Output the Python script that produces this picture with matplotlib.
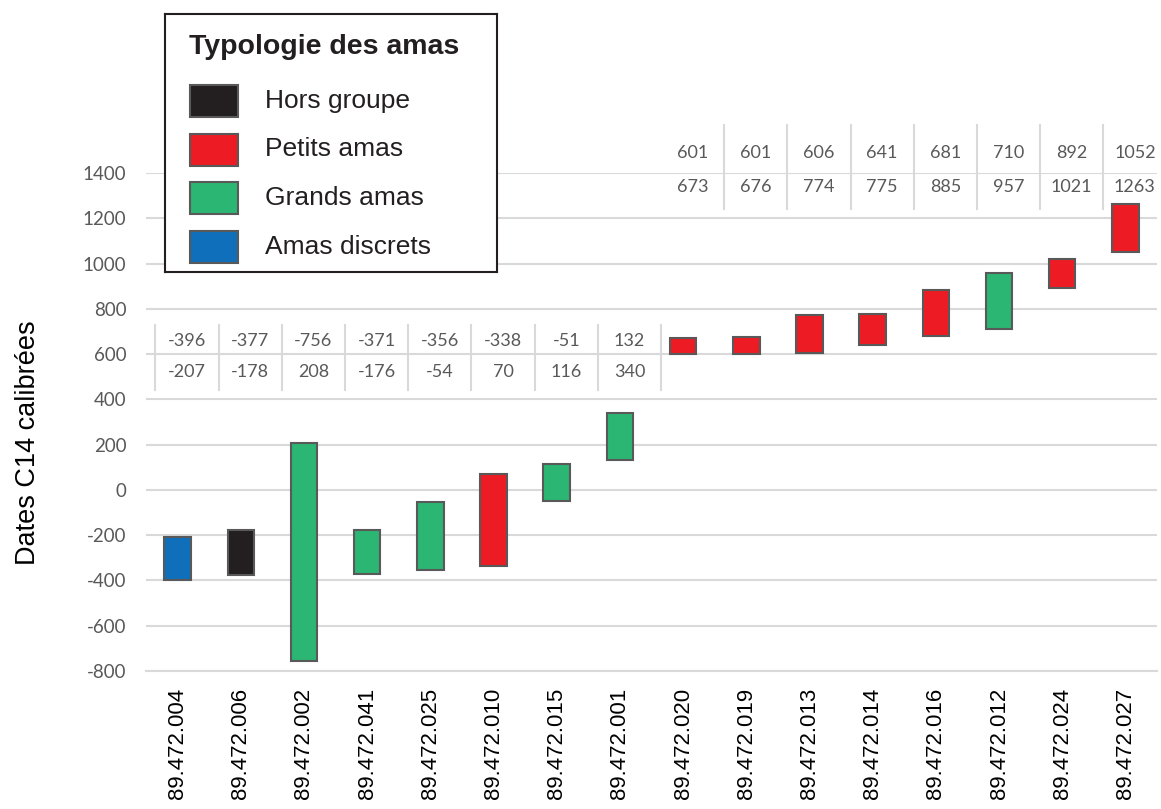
import numpy as np
import matplotlib
matplotlib.use('Agg')
import matplotlib.pyplot as plt
from matplotlib.patches import Rectangle

# sample ids, in plotting order
SAMPLES = ['89.472.004', '89.472.006', '89.472.002', '89.472.041',
           '89.472.025', '89.472.010', '89.472.015', '89.472.001',
           '89.472.020', '89.472.019', '89.472.013', '89.472.014',
           '89.472.016', '89.472.012', '89.472.024', '89.472.027']

# calibrated C14 range (low, high)
LOW = [-396, -377, -756, -371, -356, -338, -51, 132,
       601, 601, 606, 641, 681, 710, 892, 1052]
HIGH = [-207, -178, 208, -176, -54, 70, 116, 340,
        673, 676, 774, 775, 885, 957, 1021, 1263]

# cluster type of each sample
TYPES = ['Amas discrets', 'Hors groupe', 'Grands amas', 'Grands amas',
         'Grands amas', 'Petits amas', 'Grands amas', 'Grands amas',
         'Petits amas', 'Petits amas', 'Petits amas', 'Petits amas',
         'Petits amas', 'Grands amas', 'Petits amas', 'Petits amas']

LEGEND_ORDER = ['Hors groupe', 'Petits amas', 'Grands amas', 'Amas discrets']
COLORS = {'Hors groupe': '#231f20', 'Petits amas': '#ed1c24',
          'Grands amas': '#2bb673', 'Amas discrets': '#0f6fba'}

YTICKS = np.arange(-800, 1401, 200)

NUM_FONT = 'Lato'
TXT_FONT = 'Liberation Sans'
GRID = '#d9d9d9'
GREY_TXT = '#595959'


def draw_table(ax, idx, y_low, y_high, y_top, y_bot, left_line):
    # little data table printed above the bars (low value over high value)
    off = 0.15
    for i in idx:
        ax.text(i + off, y_low, str(LOW[i]), ha='center', va='center',
                fontsize=13, color=GREY_TXT, family=NUM_FONT, clip_on=False)
        ax.text(i + off, y_high, str(HIGH[i]), ha='center', va='center',
                fontsize=13, color=GREY_TXT, family=NUM_FONT, clip_on=False)
    bounds = [i + off + 0.5 for i in idx[:-1]]
    if left_line:
        bounds = [idx[0] + off - 0.5] + bounds + [idx[-1] + off + 0.5]
    for b in bounds:
        ax.plot([b, b], [y_bot, y_top], color=GRID, lw=1.5, clip_on=False,
                zorder=1)


def main():
    fig = plt.figure(figsize=(11.61, 8.09), dpi=100)
    ax = fig.add_axes([146 / 1161, 1 - 671 / 809, 1011 / 1161, 498 / 809])

    x = np.arange(len(SAMPLES))
    low = np.array(LOW)
    high = np.array(HIGH)
    colors = [COLORS[t] for t in TYPES]
    ax.bar(x, high - low, bottom=low, width=0.42, color=colors,
           edgecolor='#595959', linewidth=1.5, zorder=3)

    ax.set_xlim(-0.5, len(SAMPLES) - 0.5)
    ax.set_ylim(-800, 1400)
    ax.set_yticks(YTICKS)
    ax.set_yticklabels([str(v) for v in YTICKS], family=NUM_FONT,
                       fontsize=13.5, color=GREY_TXT)
    ax.yaxis.grid(True, color=GRID, lw=1.5, zorder=0)
    ax.set_axisbelow(True)
    ax.tick_params(axis='y', length=0, pad=14)
    ax.set_xticks(x)
    ax.set_xticklabels(SAMPLES, rotation=90, family=TXT_FONT, fontsize=16,
                       va='top')
    ax.tick_params(axis='x', length=0, pad=12)
    for s in ['top', 'right', 'left']:
        ax.spines[s].set_visible(False)
    ax.spines['bottom'].set_color(GRID)
    ax.spines['bottom'].set_linewidth(1.5)

    ax.set_ylabel('Dates C14 calibrées', family=TXT_FONT, fontsize=19.5)
    ax.yaxis.set_label_coords(-0.104, 0.458)

    # tables of values
    draw_table(ax, list(range(0, 8)), 657, 520, 728, 441, True)
    draw_table(ax, list(range(8, 16)), 1488, 1338, 1612, 1241, False)

    # legend box, drawn in pixel units
    lg = fig.add_axes([165 / 1161, 1 - 272 / 809, 332 / 1161, 258 / 809])
    lg.set_xlim(0, 332)
    lg.set_ylim(258, 0)
    lg.set_xticks([])
    lg.set_yticks([])
    for s in lg.spines.values():
        s.set_linewidth(1.5)
        s.set_color('#231f20')
    lg.text(24, 33, 'Typologie des amas', family=TXT_FONT, fontsize=20.5,
            fontweight='bold', va='center', ha='left', color='#231f20')
    for k, name in enumerate(LEGEND_ORDER):
        yc = 87 + 48.5 * k
        lg.add_patch(Rectangle((25, yc - 16), 48, 32, facecolor=COLORS[name],
                               edgecolor='#595959', lw=1.5))
        lg.text(100, yc, name, family=TXT_FONT, fontsize=19, va='center',
                ha='left', color='#231f20')

    plt.savefig('out.png', dpi=100)


if __name__ == '__main__':
    main()
